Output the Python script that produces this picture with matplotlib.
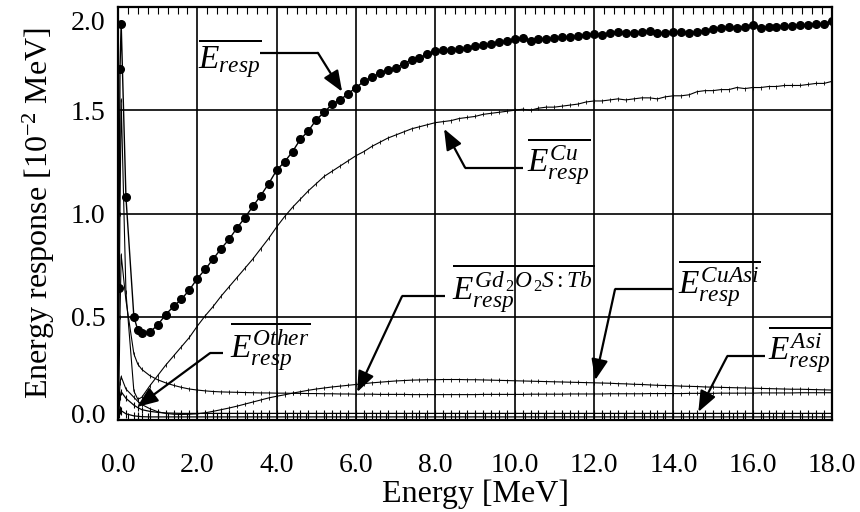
import numpy as np
import matplotlib
matplotlib.use("Agg")
import matplotlib.pyplot as plt
from matplotlib.ticker import MultipleLocator
import matplotlib.transforms as mtransforms

plt.rcParams['font.family'] = ['Liberation Serif', 'DejaVu Serif']
plt.rcParams['mathtext.fontset'] = 'custom'
plt.rcParams['mathtext.rm'] = 'Liberation Serif'
plt.rcParams['mathtext.it'] = 'Liberation Serif:italic'
plt.rcParams['mathtext.bf'] = 'Liberation Serif:bold'

# ---------------- data ----------------
energy_low = [0.02, 0.05, 0.08, 0.2, 0.4, 0.5]
energy_main = list(np.round(np.arange(0.6, 18.001, 0.2), 1))
energy = np.array(energy_low + energy_main)

eresp_low = [0.64, 1.70, 1.92, 1.08, 0.50, 0.435]
eresp_main = [
    0.42, 0.425, 0.46, 0.51, 0.55, 0.585, 0.63, 0.685, 0.73, 0.78,
    0.83, 0.875, 0.93, 0.98, 1.035, 1.087, 1.145, 1.21, 1.25, 1.30,
    1.36, 1.40, 1.455, 1.49, 1.53, 1.55, 1.58, 1.61, 1.64, 1.66,
    1.68, 1.695, 1.705, 1.725, 1.745, 1.755, 1.77, 1.785, 1.79, 1.79,
    1.795, 1.80, 1.81, 1.815, 1.82, 1.83, 1.835, 1.845, 1.85, 1.835,
    1.845, 1.845, 1.85, 1.855, 1.855, 1.86, 1.865, 1.87, 1.865, 1.875,
    1.88, 1.875, 1.875, 1.88, 1.885, 1.875, 1.875, 1.88, 1.88, 1.875,
    1.88, 1.885, 1.895, 1.90, 1.905, 1.90, 1.905, 1.913, 1.90, 1.905,
    1.905, 1.91, 1.91, 1.915, 1.915, 1.92, 1.92, 1.93]

cu_low = [0.35, 1.00, 1.55, 0.62, 0.14, 0.10]
cu_main = [
    0.11, 0.165, 0.215, 0.265, 0.31, 0.355, 0.40, 0.455, 0.505, 0.55,
    0.60, 0.645, 0.69, 0.735, 0.78, 0.83, 0.88, 0.935, 0.985, 1.03,
    1.07, 1.11, 1.145, 1.18, 1.205, 1.23, 1.255, 1.28, 1.30, 1.325,
    1.345, 1.365, 1.38, 1.395, 1.41, 1.42, 1.43, 1.44, 1.445, 1.45,
    1.46, 1.465, 1.47, 1.48, 1.485, 1.49, 1.495, 1.50, 1.505, 1.50,
    1.51, 1.515, 1.515, 1.52, 1.525, 1.53, 1.54, 1.545, 1.545, 1.55,
    1.555, 1.55, 1.555, 1.56, 1.56, 1.555, 1.565, 1.57, 1.57, 1.575,
    1.59, 1.595, 1.595, 1.60, 1.60, 1.61, 1.605, 1.61, 1.61, 1.615,
    1.615, 1.62, 1.62, 1.62, 1.625, 1.63, 1.63, 1.64]

gd_low = [0.05, 0.18, 0.21, 0.15, 0.11, 0.09]
gd_main = [
    0.075, 0.055, 0.04, 0.032, 0.028, 0.027, 0.028, 0.03, 0.035, 0.042,
    0.05, 0.058, 0.067, 0.077, 0.087, 0.097, 0.107, 0.115, 0.122, 0.13,
    0.137, 0.144, 0.15, 0.155, 0.16, 0.164, 0.168, 0.172, 0.176, 0.18,
    0.183, 0.186, 0.189, 0.191, 0.193, 0.194, 0.195, 0.195, 0.196, 0.196,
    0.196, 0.195, 0.195, 0.194, 0.193, 0.192, 0.191, 0.19, 0.189, 0.188,
    0.187, 0.186, 0.185, 0.184, 0.183, 0.182, 0.181, 0.18, 0.179, 0.178,
    0.176, 0.175, 0.173, 0.172, 0.17, 0.168, 0.167, 0.166, 0.164, 0.163,
    0.162, 0.16, 0.159, 0.158, 0.157, 0.156, 0.155, 0.154, 0.153, 0.152,
    0.151, 0.15, 0.149, 0.149, 0.148, 0.147, 0.146, 0.145]

cuasi_low = [0.10, 0.50, 0.80, 0.58, 0.32, 0.27]
cuasi_main = [
    0.245, 0.215, 0.195, 0.18, 0.168, 0.158, 0.15, 0.145, 0.141, 0.138,
    0.136, 0.135, 0.134, 0.133, 0.132, 0.131, 0.131, 0.13, 0.13, 0.129,
    0.129, 0.128, 0.128, 0.127, 0.127, 0.126, 0.126, 0.125, 0.125, 0.125,
    0.124, 0.124, 0.124, 0.124, 0.123, 0.123, 0.123, 0.123, 0.123, 0.123,
    0.123, 0.123, 0.123, 0.124, 0.124, 0.124, 0.124, 0.124, 0.124, 0.125,
    0.125, 0.125, 0.125, 0.125, 0.126, 0.126, 0.126, 0.126, 0.126, 0.127,
    0.127, 0.127, 0.127, 0.127, 0.128, 0.128, 0.128, 0.128, 0.128, 0.129,
    0.129, 0.129, 0.129, 0.13, 0.13, 0.13, 0.13, 0.13, 0.131, 0.131,
    0.131, 0.131, 0.131, 0.132, 0.132, 0.132, 0.132, 0.132]

other_low = [0.04, 0.11, 0.137, 0.105, 0.072, 0.06]
other_main = [
    0.05, 0.042, 0.037, 0.034, 0.033, 0.032, 0.032, 0.032, 0.032, 0.032,
    0.032, 0.032, 0.032, 0.032, 0.032, 0.032, 0.032, 0.032, 0.032, 0.032,
    0.032, 0.032, 0.032, 0.032, 0.032, 0.032, 0.032, 0.032, 0.032, 0.032,
    0.032, 0.032, 0.032, 0.032, 0.032, 0.032, 0.032, 0.032, 0.032, 0.032,
    0.032, 0.032, 0.032, 0.032, 0.032, 0.032, 0.032, 0.032, 0.032, 0.032,
    0.032, 0.032, 0.032, 0.032, 0.032, 0.032, 0.032, 0.032, 0.032, 0.032,
    0.032, 0.032, 0.032, 0.032, 0.032, 0.032, 0.032, 0.032, 0.032, 0.032,
    0.032, 0.032, 0.032, 0.032, 0.032, 0.032, 0.032, 0.032, 0.032, 0.032,
    0.032, 0.032, 0.032, 0.032, 0.032, 0.032, 0.032, 0.032]

asi_low = [0.03, 0.05, 0.045, 0.03, 0.02, 0.018]
asi_main = [
    0.016, 0.015, 0.015, 0.015, 0.015, 0.015, 0.015, 0.015, 0.015, 0.015,
    0.015, 0.015, 0.015, 0.015, 0.015, 0.015, 0.015, 0.015, 0.015, 0.015,
    0.015, 0.015, 0.015, 0.015, 0.015, 0.015, 0.015, 0.015, 0.015, 0.015,
    0.015, 0.015, 0.015, 0.015, 0.015, 0.015, 0.015, 0.015, 0.015, 0.015,
    0.015, 0.015, 0.015, 0.015, 0.015, 0.015, 0.015, 0.015, 0.015, 0.015,
    0.015, 0.015, 0.015, 0.015, 0.015, 0.015, 0.015, 0.015, 0.015, 0.015,
    0.015, 0.015, 0.015, 0.015, 0.015, 0.015, 0.015, 0.015, 0.015, 0.015,
    0.015, 0.015, 0.015, 0.015, 0.015, 0.015, 0.015, 0.015, 0.015, 0.015,
    0.015, 0.015, 0.015, 0.015, 0.015, 0.015, 0.015, 0.015]

eresp = np.array(eresp_low + eresp_main)
cu = np.array(cu_low + cu_main)
gd = np.array(gd_low + gd_main)
cuasi = np.array(cuasi_low + cuasi_main)
other = np.array(other_low + other_main)
asi = np.array(asi_low + asi_main)

xticks = [0, 2, 4, 6, 8, 10, 12, 14, 16, 18]
yticks = [0.0, 0.5, 1.0, 1.5, 2.0]

# ---------------- figure ----------------
fig = plt.figure(figsize=(8.6, 5.12), dpi=100)
ax = fig.add_axes([118/860, 1-420/512, (832-118)/860, (420-7)/512])

ax.set_xlim(0, 18)
ax.set_ylim(0, 2.0)
ax.set_xticks(xticks)
ax.set_xticklabels([f"{v:.1f}" for v in xticks])
ax.set_yticks(yticks)
ax.set_yticklabels([f"{v:.1f}" for v in yticks])
ax.xaxis.set_minor_locator(MultipleLocator(0.25))
ax.grid(True, which='major', color='black', lw=1.2)
ax.set_axisbelow(True)
for s in ax.spines.values():
    s.set_linewidth(1.6)
ax.tick_params(axis='x', which='major', length=0, pad=24, labelsize=20)
ax.tick_params(axis='y', which='major', length=0, pad=9, labelsize=20)
ax.tick_params(axis='x', which='minor', direction='in', top=True, bottom=True,
               length=5, width=0.8)
ax.set_xlabel('Energy [MeV]', fontsize=23, labelpad=1)
ax.set_ylabel(r'Energy response [10$^{\mathregular{-2}}$ MeV]', fontsize=23, labelpad=10)

# keep end labels inside the figure like the reference
ylabels = ax.get_yticklabels()
ylabels[-1].set_va('top')
ylabels[-1].set_transform(ylabels[-1].get_transform() +
                          mtransforms.ScaledTranslation(0, -3/72, fig.dpi_scale_trans))
ylabels[0].set_transform(ylabels[0].get_transform() +
                         mtransforms.ScaledTranslation(0, 5/72, fig.dpi_scale_trans))

# curves
ax.plot(energy, asi, color='black', lw=0.9, marker='|', ms=6, mew=0.8)
ax.plot(energy, other, color='black', lw=0.9, marker='|', ms=5, mew=0.8)
ax.plot(energy, cuasi, color='black', lw=0.8, marker='|', ms=2.5, mew=0.6)
ax.plot(energy, gd, color='black', lw=0.8, marker='|', ms=2.5, mew=0.6)
ax.plot(energy, cu, color='black', lw=0.8, marker='|', ms=2.5, mew=0.6)
ax.plot(energy, eresp, color='black', lw=1.0, marker='o', ms=5.5, mfc='black', mec='black')

# annotations: (label, text x, text baseline y, leader points ..., arrow head)
annots = [
    (r'$\overline{E_{resp}}$', 2.02, 1.705, [(3.58, 1.778), (5.04, 1.778)], (5.65, 1.59)),
    (r'$\overline{E^{Cu}_{resp}}$', 10.32, 1.198, [(10.21, 1.222), (8.75, 1.222)], (8.22, 1.41)),
    (r'$\overline{E^{Gd_{\,2}O_{\,2}S:Tb}_{resp}}$', 8.42, 0.58, [(8.25, 0.599), (7.16, 0.599)], (6.03, 0.135)),
    (r'$\overline{E^{CuAsi}_{resp}}$', 14.12, 0.609, [(14.0, 0.633), (12.53, 0.633)], (12.03, 0.193)),
    (r'$\overline{E^{Asi}_{resp}}$', 16.39, 0.29, [(16.32, 0.309), (15.36, 0.309)], (14.63, 0.039)),
    (r'$\overline{E^{Other}_{resp}}$', 2.82, 0.30, [(2.65, 0.324), (2.32, 0.324)], (0.48, 0.063)),
]
for label, tx, ty, pts, head in annots:
    ax.text(tx, ty, label, fontsize=24, ha='left', va='baseline', zorder=6)
    xs = [p[0] for p in pts]
    ys = [p[1] for p in pts]
    ax.plot(xs, ys, color='black', lw=1.6, solid_capstyle='butt', zorder=6)
    ax.annotate('', xy=head, xytext=pts[-1],
                arrowprops=dict(arrowstyle='-|>,head_length=0.7,head_width=0.28',
                                lw=1.6, color='black', shrinkA=0, shrinkB=0,
                                mutation_scale=18), zorder=6)

fig.savefig('out.png', dpi=100)
